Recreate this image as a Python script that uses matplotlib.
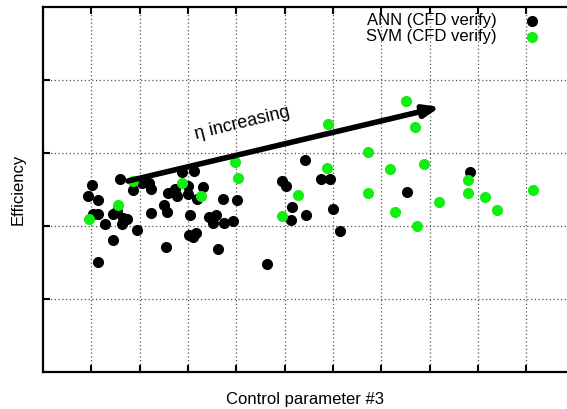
import matplotlib
matplotlib.use('Agg')
import matplotlib.pyplot as plt
import numpy as np

# ANN predictions checked with CFD
ann_x = [1.014, 0.925, 1.144, 1.583, 1.041, 1.144, 1.293, 1.442, 1.525, 1.645,
         1.748, 1.639, 1.939, 1.442, 1.148, 1.862, 2.042, 2.199, 2.235, 2.235,
         2.504, 2.566, 2.545, 2.580, 2.731, 2.773, 2.870, 3.124, 2.990, 3.006,
         3.042, 3.304, 3.180, 3.027, 3.110, 3.160, 3.435, 3.524, 3.580, 3.735,
         3.931, 3.627, 3.718, 4.014, 5.421, 4.951, 5.028, 5.746, 5.938, 5.158,
         5.436, 5.131, 6.007, 6.145, 4.629, 7.536, 8.835]
ann_y = [2.555, 2.404, 2.349, 2.640, 2.164, 2.164, 2.023, 2.164, 2.199, 2.110,
         2.089, 2.025, 1.948, 1.805, 1.511, 2.493, 2.593, 2.585, 2.500, 2.178,
         2.288, 2.196, 1.712, 2.456, 2.511, 2.404, 2.744, 2.753, 2.438, 2.548,
         2.155, 2.538, 2.370, 1.870, 1.853, 1.900, 2.123, 2.041, 2.151, 2.037,
         2.068, 1.681, 2.367, 2.362, 2.904, 2.616, 2.548, 2.640, 2.640, 2.264,
         2.151, 2.082, 2.233, 1.936, 1.475, 2.470, 2.736]

# SVM predictions checked with CFD
svm_x = [0.958, 1.546, 1.866, 2.886, 3.269, 3.973, 4.035, 4.951, 5.270, 5.870,
         5.903, 6.718, 6.725, 7.180, 7.289, 7.511, 7.697, 7.890, 7.732, 8.200,
         8.800, 8.800, 9.145, 9.400, 10.132]
svm_y = [2.093, 2.288, 2.616, 2.593, 2.411, 2.881, 2.653, 2.137, 2.425, 2.790,
         3.393, 3.010, 2.456, 2.781, 2.196, 3.712, 3.352, 2.845, 1.996, 2.325,
         2.626, 2.456, 2.401, 2.223, 2.493]

plt.rcParams['font.family'] = ['Liberation Sans', 'DejaVu Sans']
fig = plt.figure(figsize=(5.67, 4.09), dpi=100)
ax = fig.add_axes([0.0758, 0.0905, 0.9242, 0.8925])

ax.scatter(ann_x, ann_y, s=64, color='black', linewidths=0, label='ANN (CFD verify)', zorder=3)
ax.scatter(svm_x, svm_y, s=64, color='#11ee11', linewidths=0, label='SVM (CFD verify)', zorder=4)

# trend arrow
ax.annotate('', xy=(8.214, 3.630), xytext=(1.759, 2.616),
            arrowprops=dict(arrowstyle='-|>,head_length=0.9,head_width=0.35',
                            lw=4, color='black', shrinkA=0, shrinkB=0), zorder=5)
ax.text(4.12, 3.40, u'\u03b7 increasing', rotation=13.6, fontsize=13,
        ha='center', va='center', zorder=6)

ax.set_xlim(0, 10.84)
ax.set_ylim(0, 5)
ax.set_xticks(np.arange(1, 11))
ax.set_yticks(np.arange(1, 5))
ax.set_xticklabels([])
ax.set_yticklabels([])
ax.tick_params(direction='in', length=5, width=1.5, top=True, right=False)
ax.grid(True, linestyle=(0, (1, 2)), color='#555555', linewidth=0.9)
ax.set_axisbelow(True)
for side in ['left', 'bottom', 'top']:
    ax.spines[side].set_linewidth(1.6)
ax.spines['right'].set_visible(False)

ax.set_xlabel('Control parameter #3', fontsize=12, labelpad=11)
ax.set_ylabel('Efficiency', fontsize=12, labelpad=9)

ax.legend(loc='upper right', bbox_to_anchor=(0.962, 1.002), frameon=False,
          markerfirst=False, fontsize=12, handletextpad=1.6, labelspacing=0.08,
          borderaxespad=0, handlelength=1.0)

plt.savefig('out.png', dpi=100)
